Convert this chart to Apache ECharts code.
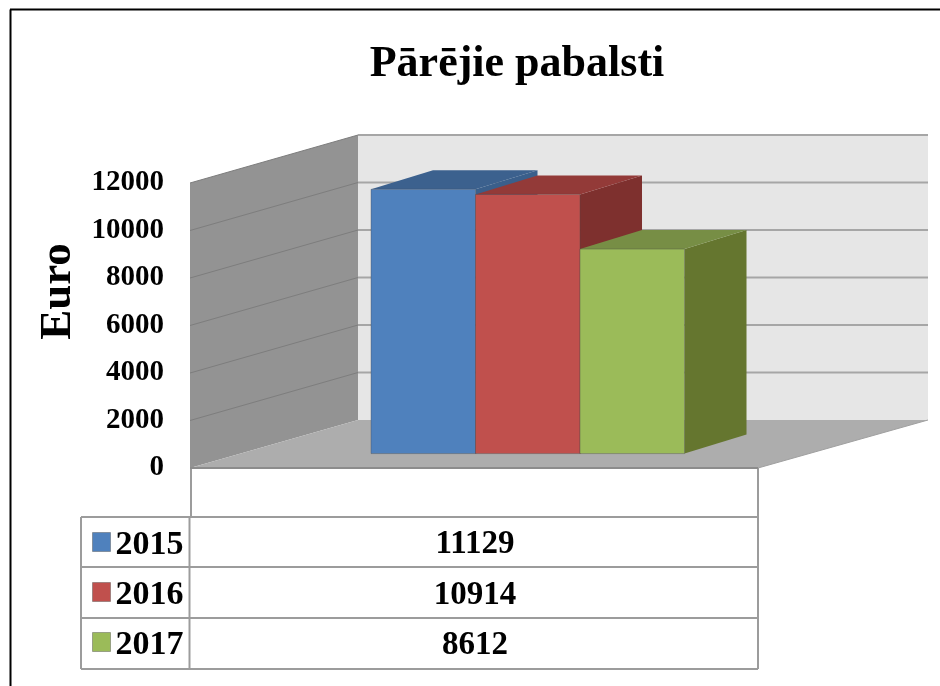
<!DOCTYPE html>
<html>
<head>
<meta charset="utf-8">
<style>html,body{margin:0;padding:0;background:#fff}#echarts{width:940px;height:686px}</style>
<script src="https://cdn.jsdelivr.net/npm/echarts@6/dist/echarts.min.js"></script>
</head>
<body>
<div id="echarts"></div>
<script>
var titleText = 'Pārējie pabalsti';
var axisName = 'Euro';
var categories = [''];
var years = ['2015', '2016', '2017'];
var values = [11129, 10914, 8612];
var ticks = [0, 2000, 4000, 6000, 8000, 10000, 12000];
var yearColors = ['#4f81bd', '#c0504d', '#9bbb59'];
var topColors = ['#3c618e', '#933a38', '#778e45'];
var sideColors = ['#3a5f8b', '#7e302e', '#65762f'];

var font = '"Liberation Serif", "Times New Roman", serif';

// room depth in pixels, from the front axis to the back wall
var depthX = 168;
var depthY = 48;
// back wall is a little wider than the front edge
var backExtra = 2;
// bars stand this far into the room and are this deep
var barFrontX = 0.32;
var barFrontY = 0.3;
var barDepthX = 62;
var barDepthY = 19;
var barWidth = 104.5;

function poly(points, fill, stroke, width) {
    return {
        type: 'polygon',
        shape: { points: points },
        style: { fill: fill, stroke: stroke || null, lineWidth: width || 0 }
    };
}

function line(x1, y1, x2, y2, color, width) {
    return {
        type: 'line',
        shape: { x1: x1, y1: y1, x2: x2, y2: y2 },
        style: { stroke: color, lineWidth: width }
    };
}

// walls and floor, plus one pair of grid lines per tick
function renderRoom(params, api) {
    var y = api.coord([0, api.value(0)])[1];
    var base = api.coord([0, 0]);
    var top = api.coord([0, 12000]);
    var w = api.size([1, 0])[0];
    var left = base[0] - w / 2;
    var right = base[0] + w / 2;
    var backRight = right + depthX + backExtra;
    var children = [];
    if (params.dataIndex === 0) {
        children.push(poly([[left + depthX, top[1] - depthY], [backRight, top[1] - depthY],
            [backRight, base[1] - depthY], [left + depthX, base[1] - depthY]], '#e6e6e6'));
        children.push(poly([[left, top[1]], [left + depthX, top[1] - depthY],
            [left + depthX, base[1] - depthY], [left, base[1]]], '#939393'));
        children.push(poly([[left, base[1]], [left + depthX, base[1] - depthY],
            [backRight, base[1] - depthY], [right, base[1]]], '#adadad'));
        children.push(line(left, base[1], right, base[1], '#8c8c8c', 2));
        children.push(line(right, base[1], backRight, base[1] - depthY, '#a0a0a0', 1));
    } else {
        children.push(line(left, y, left + depthX, y - depthY, '#7d7d7d', 1));
        children.push(line(left + depthX, y - depthY, backRight, y - depthY, '#a6a6a6', 2));
    }
    return { type: 'group', children: children };
}

// one 3D bar: front, top and right faces
function renderBar(index) {
    return function (params, api) {
        var top = api.coord([0, api.value(1)]);
        var base = api.coord([0, 0]);
        var shiftX = depthX * barFrontX;
        var shiftY = depthY * barFrontY;
        var x0 = top[0] + shiftX + (index - years.length / 2) * barWidth;
        var x1 = x0 + barWidth;
        var y0 = top[1] - shiftY;
        var y1 = base[1] - shiftY;
        return {
            type: 'group',
            children: [
                poly([[x1, y0], [x1 + barDepthX, y0 - barDepthY], [x1 + barDepthX, y1 - barDepthY], [x1, y1]], sideColors[index]),
                poly([[x0, y0], [x0 + barDepthX, y0 - barDepthY], [x1 + barDepthX, y0 - barDepthY], [x1, y0]], topColors[index]),
                poly([[x0, y0], [x1, y0], [x1, y1], [x0, y1]], yearColors[index], 'rgba(70,70,70,0.35)', 1)
            ]
        };
    };
}

var series = [{
    name: 'room',
    type: 'custom',
    silent: true,
    renderItem: renderRoom,
    encode: { y: 0 },
    data: ticks.map(function (t) { return [t]; }),
    z: 1
}];
for (var i = 0; i < years.length; i++) {
    series.push({
        name: years[i],
        type: 'custom',
        renderItem: renderBar(i),
        encode: { x: 0, y: 1 },
        itemStyle: { color: yearColors[i] },
        data: [[0, values[i]]],
        z: 2 + i
    });
}

// frame of the picture and the data table under the chart
var tableLeft = 81, tableCol = 189.5, tableRight = 758;
var rowLines = [517, 567, 618, 669];
var rowText = [544, 595, 645];
var gridColor = '#9c9c9c';
var graphics = [
    line(10.5, 9.5, 10.5, 686, '#000', 2),
    line(10, 9.5, 940, 9.5, '#000', 2),
    line(191, 468, 191, rowLines[0], gridColor, 2),
    line(tableRight, 468, tableRight, rowLines[0], gridColor, 2),
    line(tableLeft, rowLines[0], tableLeft, rowLines[3], gridColor, 2),
    line(tableCol, rowLines[0], tableCol, rowLines[3], gridColor, 2),
    line(tableRight, rowLines[0], tableRight, rowLines[3], gridColor, 2)
];
rowLines.forEach(function (y) {
    graphics.push(line(tableLeft, y, tableRight, y, gridColor, 2));
});
values.forEach(function (v, i) {
    graphics.push({
        type: 'text',
        style: {
            x: 475, y: rowText[i], text: String(v), fill: '#000',
            font: 'bold 33px ' + font, align: 'center', verticalAlign: 'middle'
        }
    });
});

var chart = echarts.init(document.getElementById('echarts'));
chart.setOption({
    animation: false,
    backgroundColor: '#fff',
    title: {
        text: titleText,
        left: 512,
        top: 38,
        textAlign: 'center',
        textStyle: { color: '#000', fontFamily: font, fontWeight: 'bold', fontSize: 44 }
    },
    legend: {
        data: years,
        orient: 'vertical',
        left: 92,
        top: 522,
        padding: 0,
        itemWidth: 18,
        itemHeight: 19,
        itemGap: 10,
        itemStyle: { borderColor: 'rgba(70,70,70,0.4)', borderWidth: 1 },
        icon: 'rect',
        selectedMode: false,
        formatter: function (name) { return '{y|' + name + '}'; },
        textStyle: {
            rich: {
                y: {
                    color: '#000', fontFamily: font, fontWeight: 'bold', fontSize: 34,
                    lineHeight: 35, padding: [6, 0, 0, 0]
                }
            }
        }
    },
    grid: { left: 190, top: 183, width: 568, height: 285 },
    xAxis: {
        type: 'category',
        data: categories,
        axisLine: { show: false },
        axisTick: { show: false },
        axisLabel: { show: false }
    },
    yAxis: {
        type: 'value',
        min: 0,
        max: 12000,
        interval: 2000,
        name: axisName,
        nameLocation: 'center',
        nameGap: 108,
        nameRotate: 90,
        nameTextStyle: {
            color: '#000', fontFamily: font, fontWeight: 'bold', fontSize: 45,
            padding: [0, 0, 0, 68]
        },
        axisLine: { show: false },
        axisTick: { show: false },
        splitLine: { show: false },
        axisLabel: {
            color: '#000', fontFamily: font, fontWeight: 'bold', fontSize: 29, margin: 26,
            formatter: function (v) { return String(v); }
        }
    },
    graphic: graphics,
    series: series
});
</script>
</body>
</html>
